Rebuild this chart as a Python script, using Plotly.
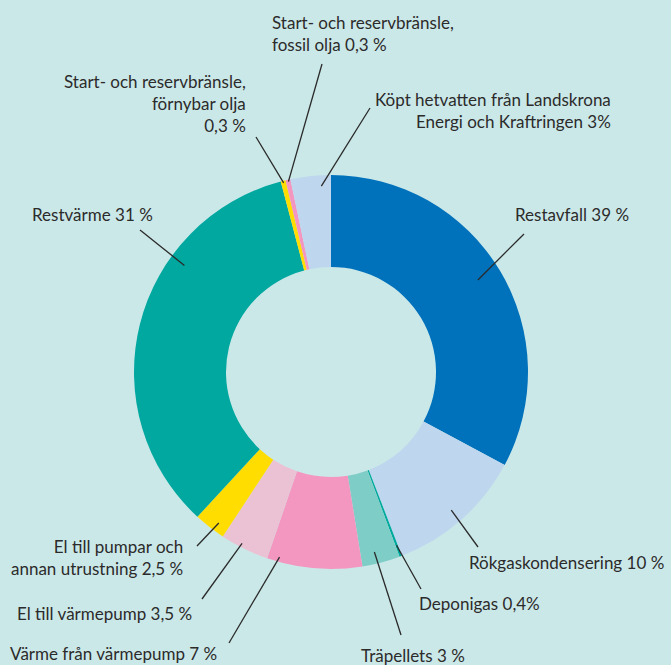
import math
import plotly.graph_objects as go

# ---- data ----
categories = [
    "Restavfall", "Rökgaskondensering", "Deponigas", "Träpellets",
    "Värme från värmepump", "El till värmepump", "El till pumpar och annan utrustning",
    "Restvärme", "Start- och reservbränsle, förnybar olja",
    "Start- och reservbränsle, fossil olja", "Köpt hetvatten från Landskrona Energi och Kraftringen",
]
slice_values = [32.8, 11.3, 0.2, 3.1, 7.8, 4.0, 2.6, 34.0, 0.4, 0.4, 3.3]
label_texts = [
    "Restavfall 39 %",
    "Rökgaskondensering 10 %",
    "Deponigas 0,4%",
    "Träpellets 3 %",
    "Värme från värmepump 7 %",
    "El till värmepump 3,5 %",
    "El till pumpar och<br>annan utrustning 2,5 %",
    "Restvärme 31 %",
    "Start- och reservbränsle,<br>förnybar olja<br>0,3 %",
    "Start- och reservbränsle,<br>fossil olja 0,3 %",
    "Köpt hetvatten från Landskrona<br>Energi och Kraftringen 3%",
]
colors = ["#0071BB", "#BFD7EE", "#00A99D", "#7FCDC7", "#F397C0", "#EBC2D4",
          "#FFDD00", "#00A8A0", "#FFDD00", "#F397C0", "#BFD7EE"]

# ---- layout constants (pixels) ----
W, H = 671, 665
BG = "#CBE8E8"
CX, CY, R = 331, 372, 197
HOLE = 0.533
FONT = "Lato"
FSIZE = 17
TXT = "#2B2B2B"

# label anchor (x, y, xanchor, align), leader (outer x, outer y, fraction within slice, radius fraction)
label_pos = [
    (513, 215, "left", "left"),
    (467, 562, "left", "left"),
    (417, 603, "left", "left"),
    (359, 655, "left", "left"),
    (8, 653, "left", "left"),
    (15, 613, "left", "left"),
    (185, 557, "right", "right"),
    (30, 215, "left", "left"),
    (248, 104, "right", "right"),
    (270, 34, "left", "left"),
    (613, 110, "right", "right"),
]
leader = [
    (524, 234, 0.49, 0.88),
    (478, 547, 0.51, 0.93),
    (421, 589, 0.5, 0.94),
    (401, 635, 0.61, 0.94),
    (229, 643, 0.88, 0.975),
    (202, 599, 0.59, 0.98),
    (197, 546, 0.35, 0.955),
    (140, 230, 0.68, 0.92),
    (256, 137, 0.5, 0.99),
    (322, 64, 0.5, 0.99),
    (370, 108, 0.75, 0.945),
]

def px(x):
    return x / W

def py(y):
    return 1 - y / H

fig = go.Figure(go.Pie(
    labels=categories,
    values=slice_values,
    sort=False,
    direction="clockwise",
    rotation=0,
    hole=HOLE,
    marker=dict(colors=colors, line=dict(width=0)),
    textinfo="none",
    hoverinfo="label",
    domain=dict(x=[px(CX - R), px(CX + R)], y=[py(CY + R), py(CY - R)]),
))

total = sum(slice_values)
start = 0.0
shapes = []
annotations = []
for v, txt, lp, ld in zip(slice_values, label_texts, label_pos, leader):
    span = v / total * 360.0
    a = math.radians(start + ld[2] * span)
    r = ld[3] * R
    ix = CX + r * math.sin(a)
    iy = CY - r * math.cos(a)
    shapes.append(dict(type="line", xref="paper", yref="paper",
                       x0=px(ld[0]), y0=py(ld[1]), x1=px(ix), y1=py(iy),
                       line=dict(color="#2A2A2A", width=1.3)))
    annotations.append(dict(xref="paper", yref="paper", x=px(lp[0]), y=py(lp[1]),
                            text=txt, showarrow=False, xanchor=lp[2], yanchor="middle",
                            align=lp[3], font=dict(family=FONT, size=FSIZE, color=TXT)))
    start += span

fig.update_layout(
    width=W, height=H,
    margin=dict(l=0, r=0, t=0, b=0),
    paper_bgcolor=BG, plot_bgcolor=BG,
    showlegend=False,
    shapes=shapes,
    annotations=annotations,
)

fig.write_html(
    "out.html",
    config={"displayModeBar": False},
    post_script="document.body.style.margin='0';document.body.style.padding='0';document.body.style.overflow='hidden';document.body.style.background='%s';" % BG,
)
